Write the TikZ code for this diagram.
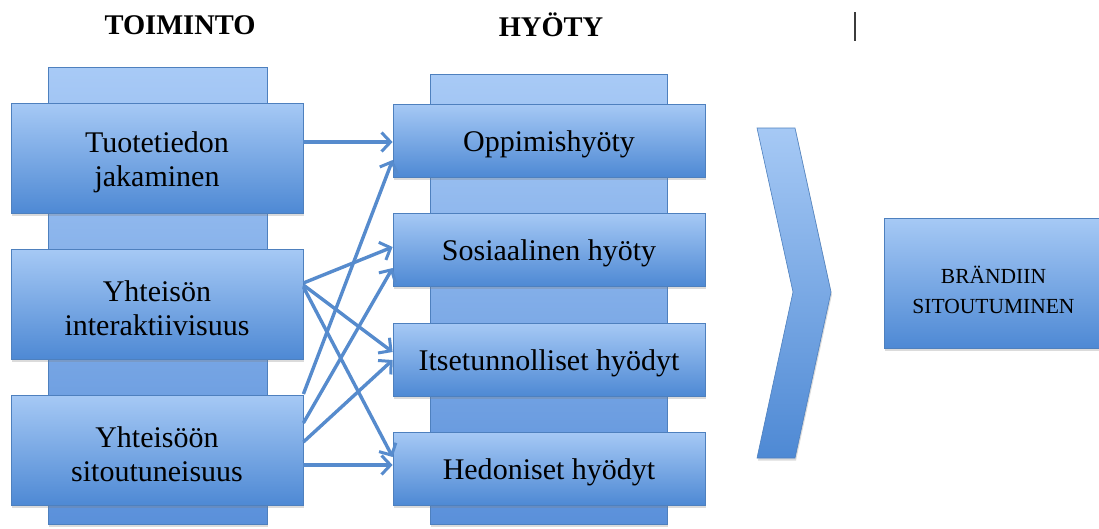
\documentclass[tikz,border=0pt]{standalone}
\usepackage{fontspec}
\setmainfont{Liberation Serif}
\usetikzlibrary{arrows.meta,calc,shadows}

\definecolor{boxtop}{RGB}{166,201,245}
\definecolor{boxbot}{RGB}{78,137,212}
\definecolor{boxline}{RGB}{78,128,190}
\definecolor{coltop}{RGB}{168,202,246}
\definecolor{colbot}{RGB}{90,144,218}
\definecolor{link}{RGB}{86,139,205}
\definecolor{caret}{RGB}{60,60,60}

\begin{document}
\begin{tikzpicture}[x=1pt,y=-1pt,
  softshadow/.style={drop shadow={shadow xshift=1pt,shadow yshift=-2.5pt,opacity=0.28}},
  column/.style={draw=boxline,line width=0.6pt,top color=coltop,bottom color=colbot,
    inner sep=0pt,softshadow},
  box/.style={draw=boxline,line width=0.8pt,top color=boxtop,bottom color=boxbot,
    inner sep=0pt,softshadow},
  boxtext/.style={align=center,inner sep=0pt,text=black,yshift=-4pt,
    font=\fontsize{30}{34}\selectfont},
  smalltext/.style={boxtext,yshift=-3pt,font=\fontsize{21.5}{30}\selectfont},
  actbox/.style={box,minimum width=292pt,minimum height=110pt},
  gainbox/.style={box,minimum width=312pt,minimum height=73pt},
  header/.style={font=\fontsize{28.5}{34}\selectfont\bfseries,inner sep=0pt},
  link/.style={draw=link,line width=3.4pt,
    -{Straight Barb[length=9pt,width=19pt,line width=3pt]}}]

\clip (0,0) rectangle (1099,528);
\fill[white] (0,0) rectangle (1099,528);

% headings
\node[header] (hAct) at (180,25) {TOIMINTO};
\node[header] (hGain) at (551,25) {HYÖTY};
\coordinate (caretTop) at (855,12);
\coordinate (caretBot) at (855,41);
\draw[caret,line width=2.4pt] (caretTop) -- (caretBot);

% background columns
\node[column,minimum width=219pt,minimum height=457pt] (colA) at (157.5,295.5) {};
\node[column,minimum width=237pt,minimum height=450pt] (colB) at (548.5,299) {};

% actions
\node[actbox,label={[boxtext]center:Tuotetiedon\\jakaminen}] (l1) at (157,158) {};
\node[actbox,label={[boxtext]center:Yhteisön\\interaktiivisuus}] (l2) at (157,304) {};
\node[actbox,label={[boxtext]center:Yhteisöön\\sitoutuneisuus}] (l3) at (157,450) {};

% benefits
\node[gainbox,label={[boxtext]center:Oppimishyöty}] (m1) at (549,140.5) {};
\node[gainbox,label={[boxtext]center:Sosiaalinen hyöty}] (m2) at (549,249.5) {};
\node[gainbox,label={[boxtext]center:Itsetunnolliset hyödyt}] (m3) at (549,359.5) {};
\node[gainbox,label={[boxtext]center:Hedoniset hyödyt}] (m4) at (549,468.5) {};

% chevron
\path[draw=boxline,line width=0.6pt,top color=boxtop,bottom color=boxbot,softshadow]
  (757,128) -- (795,128) -- (831,292) -- (795,458) -- (757,458) -- (793,292) -- cycle;

% outcome
\node[box,minimum width=219pt,minimum height=130pt,
  label={[smalltext]center:BRÄNDIIN\\SITOUTUMINEN}] (out) at (993.5,283) {};

% connectors
\draw[link] ($(l1.east)+(0,-16)$) -- ($(m1.west)+(0,1.5)$);

\draw[link] ($(l2.east)+(0,-21)$) -- ($(m2.west)+(0,-2.5)$);
\draw[link] ($(l2.east)+(0,-19)$) -- ($(m3.west)+(0,-7.5)$);
\draw[link] ($(l2.east)+(0,-17)$) -- ($(m4.west)+(0,-11.5)$);

\draw[link] ($(l3.east)+(0,-56)$) -- ($(m1.west)+(0,19.5)$);
\draw[link] ($(l3.east)+(0,-27)$) -- ($(m2.west)+(0,18.5)$);
\draw[link] ($(l3.east)+(0,-8)$) -- ($(m3.west)+(0,0.5)$);
\draw[link] ($(l3.east)+(0,15)$) -- ($(m4.west)+(0,-3.5)$);

\end{tikzpicture}
\end{document}
